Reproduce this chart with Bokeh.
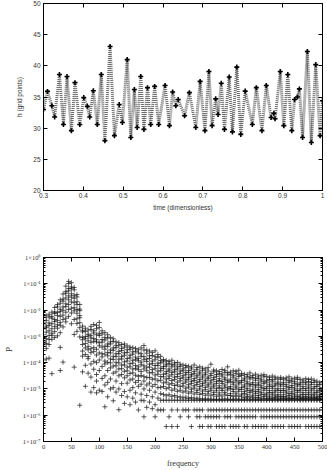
import numpy as np
from bokeh.plotting import figure
from bokeh.layouts import column
from bokeh.models import (LinearAxis, LogAxis, FixedTicker, CustomJSTickFormatter, Range1d)
from bokeh.embed import file_html
from bokeh.resources import INLINE

# ---------------- top panel: h(t) ----------------
t_vals = [0.300, 0.310, 0.321, 0.328, 0.340, 0.350, 0.359, 0.370, 0.379, 0.391,
          0.401, 0.410, 0.416, 0.425, 0.435, 0.445, 0.454, 0.467, 0.478, 0.490,
          0.498, 0.510, 0.519, 0.528, 0.535, 0.544, 0.552, 0.561, 0.569, 0.579,
          0.589, 0.605, 0.616, 0.624, 0.632, 0.638, 0.654, 0.666, 0.682, 0.693,
          0.705, 0.715, 0.723, 0.732, 0.738, 0.746, 0.754, 0.766, 0.774, 0.785,
          0.795, 0.806, 0.824, 0.834, 0.848, 0.859, 0.871, 0.878, 0.881, 0.894,
          0.903, 0.913, 0.923, 0.930, 0.937, 0.942, 0.950, 0.962, 0.972, 0.983,
          0.994, 1.000]
h_vals = [33.0, 35.9, 33.6, 31.8, 38.6, 30.6, 38.3, 29.6, 37.3, 30.6,
          34.9, 33.5, 31.8, 36.0, 30.6, 38.6, 28.0, 43.1, 28.8, 33.8,
          30.9, 41.0, 28.5, 36.2, 30.1, 38.3, 29.8, 36.5, 30.6, 36.7,
          30.6, 36.85, 30.4, 35.8, 33.6, 34.6, 32.0, 35.7, 30.1, 37.5,
          29.6, 39.1, 30.4, 34.7, 32.2, 37.2, 29.8, 38.2, 29.4, 39.8,
          29.0, 35.95, 30.6, 36.5, 29.6, 36.85, 31.7, 32.4, 31.5, 39.1,
          30.4, 38.6, 29.6, 34.6, 35.0, 36.3, 28.5, 42.3, 27.7, 40.2,
          28.8, 34.4]
h_ticks = [20, 25, 30, 35, 40, 45, 50]
t_ticks = [0.3, 0.4, 0.5, 0.6, 0.7, 0.8, 0.9, 1.0]

# ---------------- bottom panel: power spectrum ----------------
spec_freq = [0, 5, 10, 15, 20, 25, 30, 35, 40, 45, 50, 55, 60, 65, 70, 75, 80, 85, 90, 95,
             100, 105, 110, 115, 120, 125, 130, 135, 140, 145, 150, 155, 160, 165, 170, 175,
             180, 185, 190, 195, 200, 205, 210, 215, 220, 225, 230, 235, 240, 245, 250, 255,
             260, 265, 270, 275, 280, 285, 290, 295, 300, 305, 310, 315, 320, 325, 330, 335,
             340, 345, 350, 355, 360, 365, 370, 375, 380, 385, 390, 395, 400, 405, 410, 415,
             420, 425, 430, 435, 440, 445, 450, 455, 460, 465, 470, 475, 480, 485, 490, 495, 500]
# log10(P) values read for each frequency column
spec_log10p = [
    [-2.28, -2.46, -2.53, -2.71, -2.94, -3.02, -3.21, -3.38, -3.9],
    [-2.22, -2.39, -2.61, -2.67, -2.84, -3.09, -3.27, -3.46, -3.86],
    [-2.16, -2.27, -2.49, -2.58, -2.79, -2.97, -3.12, -3.31, -3.83],
    [-2.08, -2.24, -2.31, -2.52, -2.71, -2.88, -2.96, -3.11, -4.42],
    [-1.9, -2.07, -2.13, -2.36, -2.44, -2.63, -2.82, -3.04],
    [-1.79, -1.88, -2.09, -2.21, -2.39, -2.56, -2.69, -2.98],
    [-1.61, -1.74, -1.97, -2.06, -2.24, -2.47, -2.58, -2.86, -3.42, -4.3],
    [-1.39, -1.58, -1.66, -1.88, -2.01, -2.19, -2.36, -2.64, -3.98],
    [-1.09, -1.29, -1.36, -1.54, -1.76, -1.87, -2.08, -2.31, -2.45],
    [-0.91, -0.99, -1.18, -1.27, -1.46, -1.61, -1.79, -1.98, -2.24],
    [-0.96, -1.12, -1.19, -1.38, -1.51, -1.69, -1.93, -2.11, -2.52],
    [-1.14, -1.23, -1.44, -1.55, -1.72, -1.91, -2.03, -2.36, -2.93, -4.17],
    [-1.41, -1.5, -1.68, -1.79, -1.98, -2.12, -2.33, -2.51, -2.81],
    [-1.79, -1.96, -2.02, -2.21, -2.29, -2.48, -2.67, -3.02, -5.62],
    [-2.61, -2.77, -2.83, -3.04, -3.13, -3.31, -3.56, -3.75, -4.35],
    [-2.69, -2.81, -3.01, -3.09, -3.27, -3.44, -3.69, -4.1, -4.9],
    [-2.76, -2.92, -2.99, -3.17, -3.38, -3.51, -3.77, -3.85, -4.4],
    [-2.62, -2.74, -2.96, -3.06, -3.23, -3.47, -3.62, -4.05, -4.55, -5.12],
    [-2.55, -2.79, -2.87, -3.08, -3.19, -3.43, -3.58, -3.95, -4.25, -4.95],
    [-2.58, -2.71, -2.94, -3.13, -3.21, -3.49, -3.71, -4.0, -4.45, -4.7, -5.15],
    [-2.47, -2.66, -2.88, -2.97, -3.24, -3.36, -3.63, -3.9, -4.3, -5.05],
    [-2.79, -2.91, -3.12, -3.22, -3.41, -3.66, -3.78, -4.15, -4.6, -5.1],
    [-2.86, -3.04, -3.14, -3.37, -3.49, -3.68, -3.94, -4.05, -4.5, -4.85, -5.68],
    [-2.94, -3.07, -3.29, -3.38, -3.61, -3.74, -3.99, -4.3, -4.75, -5.3],
    [-3.04, -3.21, -3.29, -3.52, -3.63, -3.86, -4.01, -4.2, -4.62, -5.0],
    [-3.09, -3.19, -3.44, -3.53, -3.76, -3.88, -4.13, -4.4, -4.95, -5.45],
    [-3.21, -3.34, -3.43, -3.66, -3.77, -3.99, -4.12, -4.35, -4.7, -5.12],
    [-3.24, -3.36, -3.57, -3.66, -3.87, -4.01, -4.24, -4.5, -5.0, -5.79],
    [-3.31, -3.46, -3.54, -3.77, -3.86, -4.09, -4.23, -4.45, -4.8, -5.25],
    [-3.29, -3.41, -3.63, -3.72, -3.97, -4.09, -4.33, -4.58, -5.1, -5.55],
    [-3.36, -3.51, -3.61, -3.84, -3.94, -4.17, -4.31, -4.5, -4.78, -5.3],
    [-3.41, -3.49, -3.72, -3.82, -4.04, -4.16, -4.41, -4.66, -5.05, -5.6],
    [-3.43, -3.59, -3.68, -3.91, -4.02, -4.24, -4.39, -4.62, -4.95, -5.35],
    [-3.46, -3.57, -3.79, -3.89, -4.11, -4.23, -4.48, -4.75, -5.15, -5.5],
    [-3.51, -3.63, -3.84, -3.93, -4.16, -4.27, -4.52, -4.68, -4.9, -5.8],
    [-3.44, -3.66, -3.76, -3.98, -4.08, -4.34, -4.49, -4.82, -5.2, -5.43],
    [-3.35, -3.52, -3.77, -3.89, -4.12, -4.24, -4.53, -4.7, -5.0, -5.45, -6.06],
    [-3.52, -3.64, -3.86, -3.96, -4.17, -4.31, -4.57, -4.85, -5.25, -5.7],
    [-3.56, -3.74, -3.84, -4.06, -4.17, -4.39, -4.56, -4.78, -5.05, -5.5],
    [-3.61, -3.73, -3.94, -4.04, -4.26, -4.38, -4.63, -4.9, -5.3, -5.75],
    [-3.55, -3.77, -3.89, -4.11, -4.23, -4.47, -4.62, -4.83, -5.12, -5.6, -6.06],
    [-3.69, -3.81, -4.02, -4.11, -4.32, -4.44, -4.69, -4.95, -5.35, -5.8],
    [-3.76, -3.92, -4.01, -4.21, -4.31, -4.53, -4.67, -4.94, -5.18, -5.43, -5.8],
    [-3.88, -3.97, -4.15, -4.23, -4.44, -4.54, -4.77, -4.91, -5.21, -5.43, -5.8],
    [-3.92, -4.06, -4.13, -4.34, -4.42, -4.62, -4.74, -4.99, -5.26, -5.43, -6.43],
    [-3.96, -4.04, -4.24, -4.31, -4.51, -4.6, -4.82, -4.95, -5.22, -5.43, -6.06],
    [-3.91, -4.08, -4.16, -4.37, -4.46, -4.68, -4.8, -5.05, -5.28, -5.43, -5.8, -6.43],
    [-4.01, -4.09, -4.27, -4.35, -4.55, -4.64, -4.87, -5.0, -5.25, -5.43],
    [-3.99, -4.16, -4.24, -4.44, -4.53, -4.74, -4.85, -5.09, -5.31, -5.43, -5.8, -6.43],
    [-4.06, -4.14, -4.32, -4.41, -4.6, -4.69, -4.91, -5.05, -5.3, -5.43, -6.06],
    [-4.09, -4.24, -4.31, -4.5, -4.58, -4.79, -4.89, -5.12, -5.34, -5.43, -5.8],
    [-4.11, -4.19, -4.38, -4.46, -4.66, -4.74, -4.97, -5.08, -5.31, -5.43, -5.8],
    [-4.14, -4.3, -4.37, -4.56, -4.63, -4.84, -4.93, -5.16, -5.36, -5.43, -5.8, -6.06],
    [-4.17, -4.24, -4.45, -4.51, -4.71, -4.79, -5.01, -5.11, -5.33, -5.43, -6.43],
    [-4.09, -4.33, -4.41, -4.61, -4.68, -4.88, -4.97, -5.19, -5.38, -5.43, -5.8],
    [-4.19, -4.27, -4.48, -4.55, -4.75, -4.83, -5.05, -5.14, -5.35, -5.43, -5.8, -6.06],
    [-4.16, -4.36, -4.43, -4.64, -4.71, -4.91, -5.0, -5.21, -5.39, -5.43, -5.8, -6.06, -6.43],
    [-4.21, -4.29, -4.51, -4.58, -4.79, -4.86, -5.08, -5.17, -5.37, -5.43, -5.8, -6.43],
    [-4.24, -4.39, -4.46, -4.67, -4.74, -4.94, -5.03, -5.24, -5.4, -5.43, -6.06],
    [-4.19, -4.32, -4.55, -4.61, -4.82, -4.89, -5.1, -5.19, -5.38, -5.43, -5.8, -6.06, -6.43],
    [-4.06, -4.42, -4.49, -4.69, -4.77, -4.97, -5.05, -5.26, -5.41, -5.43, -5.8, -6.06, -6.43],
    [-4.28, -4.35, -4.57, -4.64, -4.85, -4.92, -5.13, -5.21, -5.39, -5.43, -5.8, -6.06],
    [-4.31, -4.45, -4.52, -4.72, -4.79, -4.99, -5.07, -5.28, -5.41, -5.43, -5.8, -6.06, -6.43],
    [-4.34, -4.42, -4.61, -4.68, -4.88, -4.95, -5.15, -5.23, -5.39, -5.43, -5.8, -6.06, -6.43],
    [-4.26, -4.44, -4.51, -4.72, -4.79, -4.99, -5.06, -5.27, -5.41, -5.43, -5.8, -6.43],
    [-4.29, -4.37, -4.58, -4.65, -4.85, -4.93, -5.13, -5.2, -5.38, -5.43, -5.8, -6.06, -6.43],
    [-4.16, -4.38, -4.47, -4.69, -4.76, -4.96, -5.04, -5.25, -5.4, -5.43, -5.8, -6.06],
    [-4.36, -4.44, -4.63, -4.71, -4.91, -4.98, -5.18, -5.25, -5.39, -5.43, -5.8, -6.06, -6.43],
    [-4.31, -4.48, -4.55, -4.75, -4.82, -5.02, -5.1, -5.29, -5.41, -5.43, -5.8, -6.43],
    [-4.33, -4.41, -4.62, -4.69, -4.89, -4.96, -5.16, -5.24, -5.38, -5.43, -5.8, -6.06, -6.43],
    [-4.29, -4.46, -4.53, -4.74, -4.81, -5.01, -5.09, -5.28, -5.41, -5.43, -5.8, -6.06, -6.43],
    [-4.41, -4.49, -4.68, -4.75, -4.94, -5.02, -5.2, -5.27, -5.39, -5.43, -5.8, -6.06],
    [-4.44, -4.59, -4.66, -4.85, -4.92, -5.1, -5.17, -5.33, -5.41, -5.43, -5.8, -6.06, -6.43],
    [-4.46, -4.54, -4.73, -4.8, -4.98, -5.05, -5.22, -5.29, -5.38, -5.43, -5.8, -6.06, -6.43],
    [-4.39, -4.55, -4.62, -4.82, -4.89, -5.07, -5.14, -5.31, -5.41, -5.43, -5.8, -6.06],
    [-4.49, -4.57, -4.76, -4.83, -5.01, -5.08, -5.24, -5.31, -5.39, -5.43, -5.8, -6.06, -6.43],
    [-4.44, -4.6, -4.67, -4.86, -4.93, -5.11, -5.18, -5.34, -5.41, -5.43, -5.8, -6.06, -6.43],
    [-4.51, -4.59, -4.77, -4.84, -5.02, -5.09, -5.25, -5.32, -5.39, -5.43, -5.8, -6.43],
    [-4.48, -4.63, -4.7, -4.88, -4.95, -5.13, -5.2, -5.35, -5.41, -5.43, -5.8, -6.06, -6.43],
    [-4.46, -4.54, -4.73, -4.8, -4.98, -5.05, -5.22, -5.29, -5.38, -5.43, -5.8, -6.06, -6.43],
    [-4.52, -4.67, -4.74, -4.92, -4.99, -5.16, -5.23, -5.36, -5.41, -5.43, -5.8, -6.06, -6.43],
    [-4.56, -4.64, -4.82, -4.89, -5.06, -5.13, -5.28, -5.34, -5.39, -5.43, -5.8, -6.06],
    [-4.51, -4.66, -4.73, -4.91, -4.98, -5.15, -5.22, -5.36, -5.41, -5.43, -5.8, -6.06, -6.43],
    [-4.55, -4.63, -4.81, -4.88, -5.05, -5.12, -5.27, -5.33, -5.39, -5.43, -5.8, -6.06, -6.43],
    [-4.59, -4.74, -4.81, -4.98, -5.05, -5.21, -5.28, -5.38, -5.41, -5.43, -5.8, -6.06, -6.43],
    [-4.56, -4.64, -4.82, -4.89, -5.06, -5.13, -5.28, -5.34, -5.39, -5.43, -5.8, -6.06, -6.43],
    [-4.61, -4.75, -4.82, -4.99, -5.06, -5.22, -5.29, -5.37, -5.41, -5.43, -5.8, -6.06, -6.43],
    [-4.58, -4.66, -4.84, -4.91, -5.08, -5.15, -5.3, -5.35, -5.39, -5.43, -5.8, -6.06],
    [-4.54, -4.69, -4.76, -4.94, -5.01, -5.18, -5.25, -5.37, -5.41, -5.43, -5.8, -6.06, -6.43],
    [-4.62, -4.7, -4.87, -4.94, -5.11, -5.18, -5.31, -5.36, -5.39, -5.43, -5.8, -6.06, -6.43],
    [-4.59, -4.73, -4.8, -4.97, -5.04, -5.2, -5.27, -5.37, -5.41, -5.43, -5.8, -6.06, -6.43],
    [-4.56, -4.64, -4.82, -4.89, -5.06, -5.13, -5.28, -5.34, -5.39, -5.43, -5.8, -6.06, -6.43],
    [-4.63, -4.77, -4.84, -5.0, -5.07, -5.23, -5.3, -5.38, -5.41, -5.43, -5.8, -6.06, -6.43],
    [-4.66, -4.74, -4.91, -4.98, -5.14, -5.21, -5.33, -5.37, -5.39, -5.43, -5.8, -6.06],
    [-4.61, -4.75, -4.82, -4.99, -5.06, -5.22, -5.29, -5.37, -5.41, -5.43, -5.8, -6.06, -6.43],
    [-4.64, -4.72, -4.89, -4.96, -5.13, -5.2, -5.32, -5.36, -5.39, -5.43, -5.8, -6.06, -6.43],
    [-4.62, -4.76, -4.83, -5.0, -5.07, -5.23, -5.3, -5.38, -5.41, -5.43, -5.8, -6.06, -6.43],
    [-4.67, -4.75, -4.92, -4.99, -5.15, -5.22, -5.33, -5.37, -5.39, -5.43, -5.8, -6.06, -6.43],
    [-4.71, -4.84, -4.91, -5.07, -5.14, -5.28, -5.34, -5.38, -5.41, -5.43, -5.8, -6.06, -6.43],
    [-4.76, -4.84, -5.0, -5.07, -5.22, -5.28, -5.35, -5.38, -5.4, -5.43, -5.8, -6.06, -6.43],
    [-4.82, -4.94, -5.01, -5.16, -5.22, -5.3, -5.35, -5.38, -5.41, -5.43, -5.8, -6.06, -6.43],
]
decades = [-7, -6, -5, -4, -3, -2, -1, 0]
freq_ticks = [0, 50, 100, 150, 200, 250, 300, 350, 400, 450, 500]

spec_x = [f for f, vals in zip(spec_freq, spec_log10p) for _ in vals]
spec_y = [10.0 ** v for vals in spec_log10p for v in vals]

SANS = "Liberation Sans"
SERIF = "Liberation Serif"
TXT = "#333333"
BLANK = CustomJSTickFormatter(code="return '';")


def style_axis(ax, font, size, ticker=None):
    if ticker is not None:
        ax.ticker = ticker
    ax.axis_line_color = "black"
    ax.major_tick_in = 4
    ax.major_tick_out = 0
    ax.major_tick_line_color = "black"
    ax.minor_tick_in = 2
    ax.minor_tick_out = 0
    ax.major_label_text_font = font
    ax.major_label_text_font_size = size
    ax.major_label_text_color = TXT
    ax.axis_label_text_font = font
    ax.axis_label_text_font_style = "normal"
    ax.axis_label_text_color = TXT


def mirror(ax, ticker, font):
    style_axis(ax, font, "2px", ticker)
    ax.formatter = BLANK
    ax.major_label_standoff = 0


# ---- figure 1 ----
p1 = figure(width=327, height=228, x_range=Range1d(0.3, 1.0), y_range=Range1d(20, 50),
            output_backend="svg", toolbar_location=None,
            min_border_left=40, min_border_right=4, min_border_top=3, min_border_bottom=38)
p1.grid.visible = False
p1.outline_line_color = "black"

p1.line(t_vals, h_vals, line_color="#6a6a6a", line_width=3, line_join="round",
        line_dash="1 1")
p1.scatter(t_vals, h_vals, marker="cross", size=5, line_color="black", line_width=1.6)

xb = p1.below[0]
style_axis(xb, SANS, "6.5px", FixedTicker(ticks=t_ticks))
xb.minor_tick_line_color = None
xb.formatter = CustomJSTickFormatter(code="return tick.toFixed(1).replace(/\\.0$/, '');")
xb.major_label_standoff = 2
xb.axis_label = "time (dimensionless)"
xb.axis_label_text_font_size = "6.5px"
xb.axis_label_standoff = 3

yl = p1.left[0]
style_axis(yl, SANS, "6.5px", FixedTicker(ticks=h_ticks))
yl.minor_tick_line_color = None
yl.major_label_standoff = 3
yl.axis_label = "h (grid points)"
yl.axis_label_text_font_size = "6.5px"
yl.axis_label_standoff = 7

xt = LinearAxis()
mirror(xt, FixedTicker(ticks=t_ticks), SANS)
xt.minor_tick_line_color = None
p1.add_layout(xt, "above")
yr = LinearAxis()
mirror(yr, FixedTicker(ticks=h_ticks), SANS)
yr.minor_tick_line_color = None
p1.add_layout(yr, "right")

# ---- figure 2 ----
p2 = figure(width=327, height=242, x_range=Range1d(0, 500), y_range=Range1d(1e-7, 1),
            y_axis_type="log", output_backend="svg", toolbar_location=None,
            min_border_left=41, min_border_right=5, min_border_top=29, min_border_bottom=28)
p2.grid.visible = False
p2.outline_line_color = "black"

p2.scatter(spec_x, spec_y, marker="cross", size=5, line_color="#1a1a1a",
           line_alpha=0.7, line_width=1)

log_major = [10.0 ** d for d in decades]
log_minor = [k * 10.0 ** d for d in decades[:-1] for k in range(2, 10)]
log_fmt = CustomJSTickFormatter(code="""
const e = Math.round(Math.log10(tick));
const sup = {'-':'\u207b','0':'\u2070','1':'\u00b9','2':'\u00b2','3':'\u00b3','4':'\u2074','5':'\u2075','6':'\u2076','7':'\u2077','8':'\u2078','9':'\u2079'};
return '1\u00d710' + String(e).split('').map(c => sup[c]).join('');
""")

xb2 = p2.below[0]
style_axis(xb2, SERIF, "6.5px", FixedTicker(ticks=freq_ticks))
xb2.minor_tick_line_color = None
xb2.major_label_standoff = 3
xb2.axis_label = "frequency"
xb2.axis_label_text_font_size = "8px"
xb2.axis_label_standoff = 7

yl2 = p2.left[0]
style_axis(yl2, SERIF, "6.5px", FixedTicker(ticks=log_major, minor_ticks=log_minor))
yl2.formatter = log_fmt
yl2.major_label_standoff = 3
yl2.axis_label = "P"
yl2.axis_label_text_font_size = "9px"
yl2.axis_label_standoff = 6

xt2 = LinearAxis()
mirror(xt2, FixedTicker(ticks=freq_ticks), SERIF)
xt2.minor_tick_line_color = None
p2.add_layout(xt2, "above")
yr2 = LogAxis()
mirror(yr2, FixedTicker(ticks=log_major, minor_ticks=log_minor), SERIF)
p2.add_layout(yr2, "right")

layout = column(p1, p2, spacing=0)

with open("out.html", "w", encoding="utf-8") as fh:
    fh.write(file_html(layout, INLINE))
